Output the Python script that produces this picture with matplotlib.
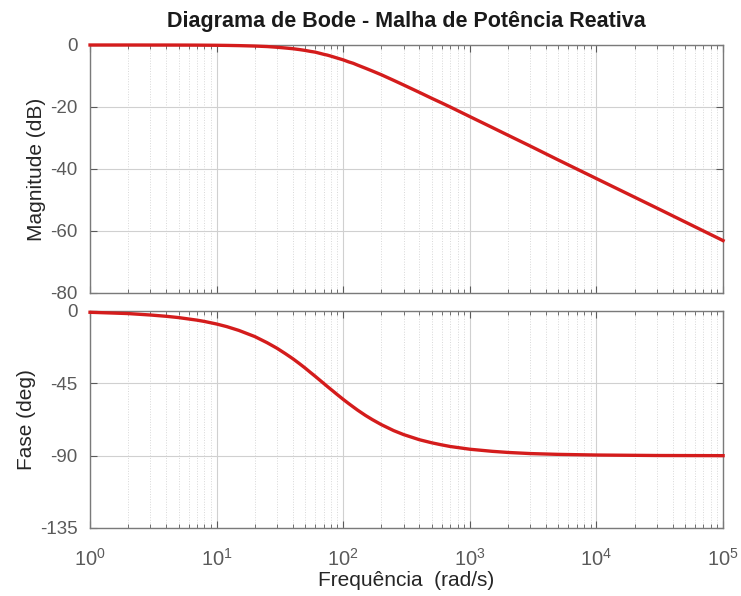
import numpy as np
import matplotlib
matplotlib.use('Agg')
import matplotlib.pyplot as plt
from matplotlib.ticker import LogLocator, NullFormatter, FuncFormatter

plt.rcParams['font.family'] = ['Liberation Sans', 'DejaVu Sans']
plt.rcParams['mathtext.fontset'] = 'custom'
plt.rcParams['mathtext.rm'] = 'Liberation Sans'
plt.rcParams['axes.unicode_minus'] = False

# values
freq = [1, 2, 3, 4, 5, 7, 8, 10, 12, 15, 20, 25, 30, 35, 40, 45, 50, 55, 60, 65,
        70, 75, 80, 90, 100, 110, 120, 130, 150, 170, 200, 250, 300, 400, 500,
        600, 700, 1000, 1500, 2000, 3000, 5000, 10000, 30000, 100000]
mag_db = [0.0, 0.0, -0.01, -0.01, -0.02, -0.04, -0.06, -0.09, -0.13, -0.2, -0.34,
          -0.5, -0.73, -0.97, -1.2, -1.47, -1.75, -2.06, -2.3, -2.66, -3.0, -3.27,
          -3.6, -4.24, -4.8, -5.43, -5.91, -6.5, -7.5, -8.4, -9.6, -11.4, -12.9,
          -15.3, -17.2, -18.7, -20.0, -23.1, -26.6, -29.1, -32.6, -37.1, -43.1,
          -52.6, -63.1]
phase_deg = [-0.8, -1.6, -2.5, -3.3, -4.1, -5.7, -6.5, -8.1, -9.7, -12.1, -15.9,
             -19.7, -23.2, -26.6, -29.7, -32.7, -35.5, -38.2, -40.6, -42.9, -45.0,
             -47.0, -48.8, -52.1, -55.0, -57.5, -59.7, -61.7, -65.0, -67.6, -70.7,
             -74.4, -76.9, -80.1, -82.0, -83.3, -84.3, -86.0, -87.3, -88.0, -88.7,
             -89.2, -89.6, -89.9, -90.0]

mag_ticks = [-80, -60, -40, -20, 0]
phase_ticks = [-135, -90, -45, 0]

fig = plt.figure(figsize=(7.41, 5.96), dpi=100)
ax1 = fig.add_axes([0.1215, 0.5084, 0.8543, 0.4161])
ax2 = fig.add_axes([0.1215, 0.1141, 0.8543, 0.3641])

red = '#d41c1c'
ax1.semilogx(freq, mag_db, color=red, lw=2.4, zorder=5, clip_on=False)
ax2.semilogx(freq, phase_deg, color=red, lw=2.4, zorder=5, clip_on=False)

for ax in (ax1, ax2):
    ax.set_xlim(1, 1e5)
    ax.xaxis.set_major_locator(LogLocator(base=10, numticks=10))
    ax.xaxis.set_minor_locator(LogLocator(base=10, subs=np.arange(2, 10), numticks=10))
    ax.xaxis.set_major_formatter(FuncFormatter(lambda v, p: r'$10^{%d}$' % round(np.log10(v))))
    ax.xaxis.set_minor_formatter(NullFormatter())
    ax.grid(True, which='major', color='#d0d0d0', lw=0.8, ls='-')
    ax.grid(True, which='minor', color='#d8d8d8', lw=0.7, ls=':')
    ax.tick_params(which='both', direction='in', top=True, right=True,
                   colors='#5a5a5a', labelsize=13.5)
    ax.tick_params(which='major', length=5)
    ax.tick_params(which='minor', length=3)
    ax.tick_params(axis='y', which='major', pad=9)
    ax.tick_params(axis='x', which='major', labelsize=14.5, pad=14)
    for s in ax.spines.values():
        s.set_color('#7a7a7a')
        s.set_linewidth(1.0)
    ax.set_axisbelow(True)

ax1.set_ylim(-80, 0)
ax1.set_yticks(mag_ticks)
ax1.tick_params(axis='x', labelbottom=False)
ax1.set_ylabel('Magnitude (dB)', fontsize=15, color='#262626', labelpad=3)
ax1.set_title('Diagrama de Bode - Malha de Potência Reativa', fontsize=15.5,
              fontweight='bold', color='#1a1a1a', pad=13)

ax2.set_ylim(-135, 0)
ax2.set_yticks(phase_ticks)
ax2.set_ylabel('Fase (deg)', fontsize=15, color='#262626', labelpad=3)
ax2.set_xlabel('Frequência  (rad/s)', fontsize=15, color='#262626', labelpad=1)

fig.savefig('out.png', dpi=100)
